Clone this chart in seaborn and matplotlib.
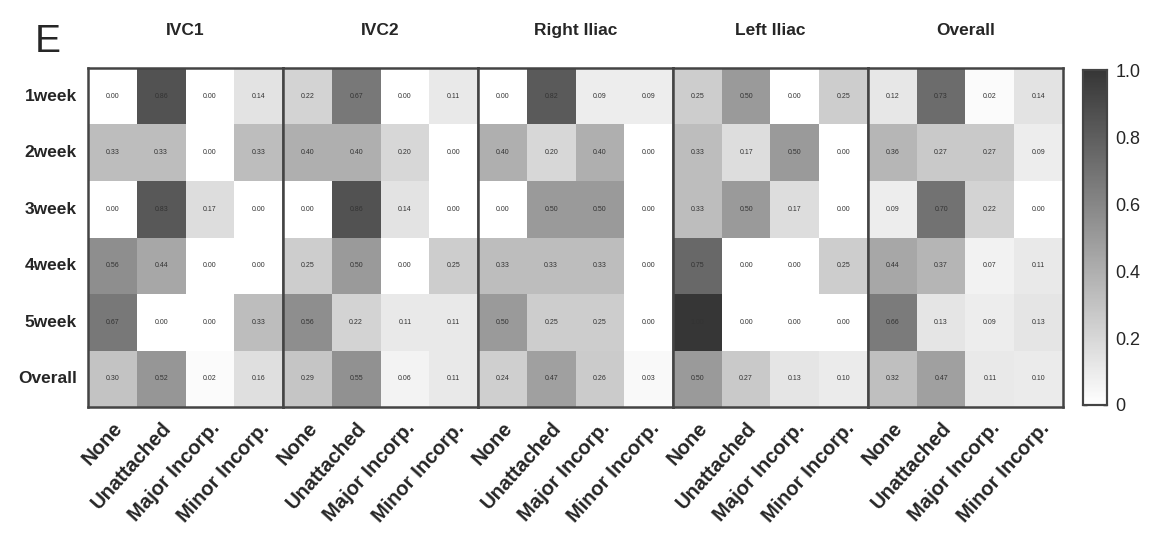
import matplotlib.pyplot as plt
import numpy as np
import seaborn as sns
from matplotlib.colors import LinearSegmentedColormap

sns.set_theme(style="white")
plt.rcParams["font.family"] = ["Liberation Sans", "DejaVu Sans"]

weeks = ["1week", "2week", "3week", "4week", "5week", "Overall"]
categories = ["None", "Unattached", "Major Incorp.", "Minor Incorp."]
panels = ["IVC1", "IVC2", "Right Iliac", "Left Iliac", "Overall"]

ivc1 = [
    [0.00, 0.86, 0.00, 0.14],
    [0.33, 0.33, 0.00, 0.33],
    [0.00, 0.83, 0.17, 0.00],
    [0.56, 0.44, 0.00, 0.00],
    [0.67, 0.00, 0.00, 0.33],
    [0.30, 0.52, 0.02, 0.16],
]
ivc2 = [
    [0.22, 0.67, 0.00, 0.11],
    [0.40, 0.40, 0.20, 0.00],
    [0.00, 0.86, 0.14, 0.00],
    [0.25, 0.50, 0.00, 0.25],
    [0.56, 0.22, 0.11, 0.11],
    [0.29, 0.55, 0.06, 0.11],
]
right_iliac = [
    [0.00, 0.82, 0.09, 0.09],
    [0.40, 0.20, 0.40, 0.00],
    [0.00, 0.50, 0.50, 0.00],
    [0.33, 0.33, 0.33, 0.00],
    [0.50, 0.25, 0.25, 0.00],
    [0.24, 0.47, 0.26, 0.03],
]
left_iliac = [
    [0.25, 0.50, 0.00, 0.25],
    [0.33, 0.17, 0.50, 0.00],
    [0.33, 0.50, 0.17, 0.00],
    [0.75, 0.00, 0.00, 0.25],
    [1.00, 0.00, 0.00, 0.00],
    [0.50, 0.27, 0.13, 0.10],
]
overall = [
    [0.12, 0.73, 0.02, 0.14],
    [0.36, 0.27, 0.27, 0.09],
    [0.09, 0.70, 0.22, 0.00],
    [0.44, 0.37, 0.07, 0.11],
    [0.66, 0.13, 0.09, 0.13],
    [0.32, 0.47, 0.11, 0.10],
]
panel_data = [ivc1, ivc2, right_iliac, left_iliac, overall]

cmap = LinearSegmentedColormap.from_list("grays", ["#ffffff", "#363636"])

fig = plt.figure(figsize=(11.51, 5.48), dpi=100)
left0, width, bottom, height = 0.0765, 0.1694, 0.257, 0.619
cbar_ax = fig.add_axes([0.941, 0.261, 0.021, 0.611])

for i, (name, values) in enumerate(zip(panels, panel_data)):
    ax = fig.add_axes([left0 + i * width, bottom, width, height])
    sns.heatmap(
        np.array(values), ax=ax, cmap=cmap, vmin=0, vmax=1,
        annot=True, fmt=".2f",
        annot_kws={"fontsize": 5, "color": "#333333"},
        cbar=(i == len(panels) - 1), cbar_ax=cbar_ax if i == len(panels) - 1 else None,
        xticklabels=categories, yticklabels=weeks if i == 0 else False,
    )
    for t in ax.texts:
        t.set_color("#333333")
    for s in ax.spines.values():
        s.set_visible(True)
        s.set_color("#444444")
        s.set_linewidth(1.8)
    ax.set_title(name, fontsize=12.5, fontweight="bold", pad=24)
    ax.tick_params(length=0)
    ax.tick_params(axis="x", pad=8)
    plt.setp(ax.get_xticklabels(), rotation=48, ha="right", rotation_mode="anchor",
             fontsize=14.5, fontweight="bold")
    if i == 0:
        plt.setp(ax.get_yticklabels(), rotation=0, fontsize=12.5, fontweight="bold")
        ax.tick_params(axis="y", pad=8)

cbar_ax.set_yticks([0, 0.2, 0.4, 0.6, 0.8, 1.0])
cbar_ax.set_yticklabels(["0", "0.2", "0.4", "0.6", "0.8", "1.0"], fontsize=13)
cbar_ax.tick_params(axis="y", direction="in", length=3, width=1, left=True, right=True, pad=6)
for s in cbar_ax.spines.values():
    s.set_visible(True)
    s.set_color("#444444")
    s.set_linewidth(1.5)

fig.text(0.03, 0.905, "E", fontsize=28)

fig.savefig("out.png", dpi=100)
